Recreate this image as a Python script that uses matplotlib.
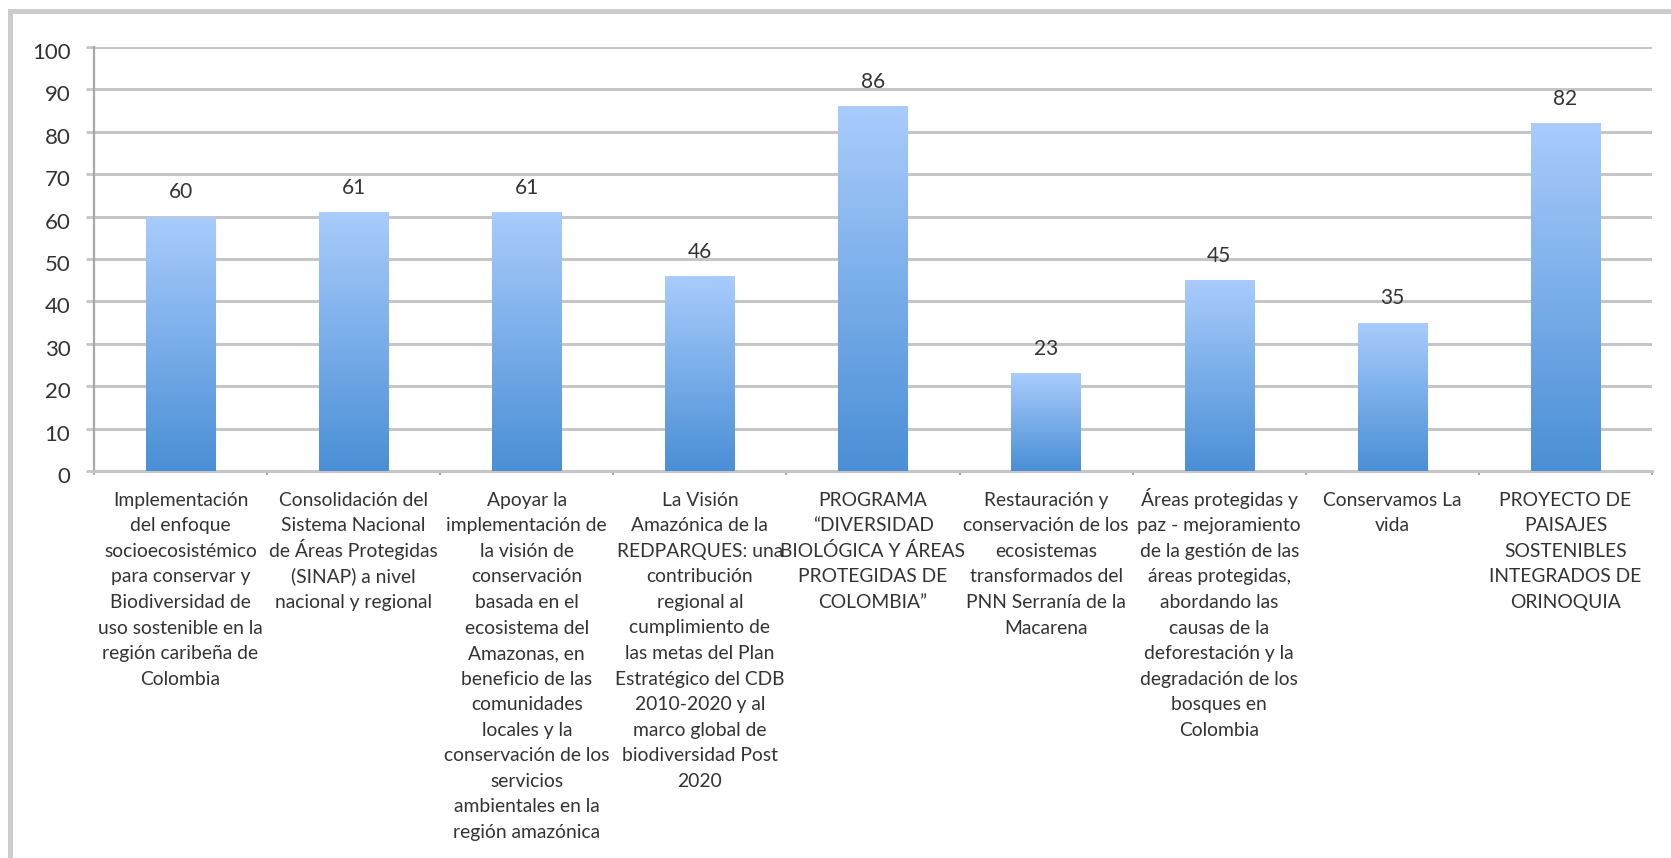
import matplotlib
matplotlib.use("Agg")

import matplotlib.pyplot as plt
import matplotlib.transforms as mtransforms
import numpy as np
from matplotlib.colors import LinearSegmentedColormap
from matplotlib.lines import Line2D

plt.rcParams['font.family'] = ['Lato', 'DejaVu Sans']

categories = [
    "Implementación\ndel enfoque\nsocioecosistémico\npara conservar y\nBiodiversidad de\nuso sostenible en la\nregión caribeña de\nColombia",
    "Consolidación del\nSistema Nacional\nde Áreas Protegidas\n(SINAP) a nivel\nnacional y regional",
    "Apoyar la\nimplementación de\nla visión de\nconservación\nbasada en el\necosistema del\nAmazonas, en\nbeneficio de las\ncomunidades\nlocales y la\nconservación de los\nservicios\nambientales en la\nregión amazónica",
    "La Visión\nAmazónica de la\nREDPARQUES: una\ncontribución\nregional al\ncumplimiento de\nlas metas del Plan\nEstratégico del CDB\n2010-2020 y al\nmarco global de\nbiodiversidad Post\n2020",
    "PROGRAMA\n“DIVERSIDAD\nBIOLÓGICA Y ÁREAS\nPROTEGIDAS DE\nCOLOMBIA”",
    "Restauración y\nconservación de los\necosistemas\ntransformados del\nPNN Serranía de la\nMacarena",
    "Áreas protegidas y\npaz - mejoramiento\nde la gestión de las\náreas protegidas,\nabordando las\ncausas de la\ndeforestación y la\ndegradación de los\nbosques en\nColombia",
    "Conservamos La\nvida",
    "PROYECTO DE\nPAISAJES\nSOSTENIBLES\nINTEGRADOS DE\nORINOQUIA",
]
values = [60, 61, 61, 46, 86, 23, 45, 35, 82]
y_ticks = [0, 10, 20, 30, 40, 50, 60, 70, 80, 90, 100]

text_color = '#333333'
grid_color = '#c6c6c6'
axis_color = '#a8a8a8'
grad = LinearSegmentedColormap.from_list('bar_grad', ['#4a8fd6', '#a9ccfc'])

fig = plt.figure(figsize=(16.71, 8.58), dpi=100)
ax = fig.add_axes([94 / 1671, 1 - 471 / 858, 1558 / 1671, 424 / 858])

x = np.arange(len(values))
bars = ax.bar(x, values, width=0.40, color='none', edgecolor='none', zorder=3)

# vertical gradient inside each bar
g = np.linspace(0, 1, 256).reshape(-1, 1)
for b in bars:
    x0, h, w = b.get_x(), b.get_height(), b.get_width()
    im = ax.imshow(g, cmap=grad, origin='lower', aspect='auto',
                   extent=[x0, x0 + w, 0, h], zorder=3)
    im.set_clip_path(b)
    ax.annotate(str(h), (x0 + w / 2, h), xytext=(0, 17.5), textcoords='offset points',
                ha='center', va='center', fontsize=15, color=text_color)

ax.set_xlim(-0.5, len(values) - 0.5)
ax.set_ylim(0, 100)
ax.set_yticks(y_ticks)
ax.yaxis.grid(True, color=grid_color, linewidth=2.2, zorder=0)
ax.set_axisbelow(True)

# category boundaries get the small tick marks
ax.set_xticks(np.arange(len(values) + 1) - 0.5)
ax.set_xticklabels([])
ax.tick_params(axis='x', which='major', length=3, width=1.5, color=axis_color)

# category labels, one line at a time so the spacing stays even
line_step = 18.4
for i, label in enumerate(categories):
    for j, line in enumerate(label.split('\n')):
        ax.annotate(line, (i, 0), xycoords=('data', 'axes fraction'),
                    xytext=(0, -25 - j * line_step), textcoords='offset points',
                    ha='center', va='baseline', fontsize=13.9, color=text_color,
                    annotation_clip=False)

ax.tick_params(axis='y', length=6, width=2, color=grid_color, pad=11,
               labelsize=16, labelcolor=text_color)
shift = mtransforms.ScaledTranslation(0, -4 / 100, fig.dpi_scale_trans)
for t in ax.get_yticklabels():
    t.set_transform(t.get_transform() + shift)

for s in ['top', 'right']:
    ax.spines[s].set_visible(False)
ax.spines['left'].set_color(axis_color)
ax.spines['left'].set_linewidth(1.6)
ax.spines['bottom'].set_color(grid_color)
ax.spines['bottom'].set_linewidth(2.2)

# outer chart frame (only top and left edges visible)
fig.add_artist(Line2D([10 / 1671, 1], [1 - 10.5 / 858] * 2, transform=fig.transFigure,
                      color='#cccccc', linewidth=3.6))
fig.add_artist(Line2D([10 / 1671] * 2, [0, 1 - 10.5 / 858], transform=fig.transFigure,
                      color='#cccccc', linewidth=3.6))

fig.savefig('out.png', dpi=100)
